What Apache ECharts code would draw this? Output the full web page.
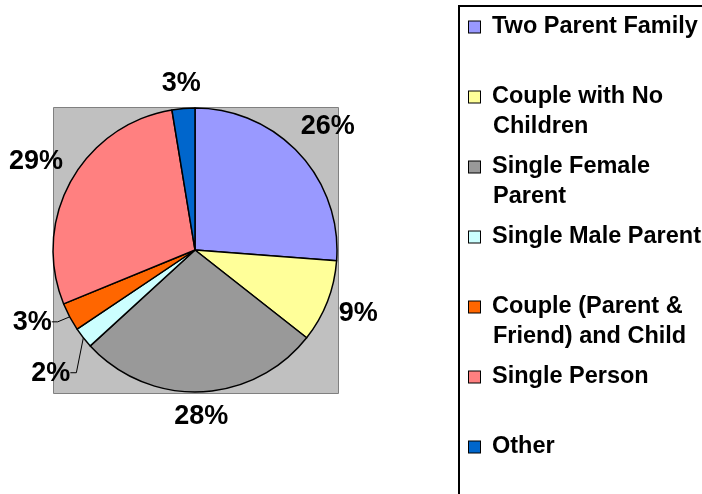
<!DOCTYPE html>
<html>
<head>
<meta charset="utf-8">
<script src="https://cdn.jsdelivr.net/npm/echarts@6/dist/echarts.min.js"></script>
<style>
  html, body { margin: 0; padding: 0; background: #fff; }
  #chart { width: 702px; height: 494px; }
</style>
</head>
<body>
<div id="chart"></div>
<script>
// household types
const categories = ['Two Parent Family', 'Couple with No Children', 'Single Female Parent',
  'Single Male Parent', 'Couple (Parent & Friend) and Child', 'Single Person', 'Other'];
// legend text, wrapped like the original
const legendLines = [['Two Parent Family'], ['Couple with No', 'Children'], ['Single Female', 'Parent'],
  ['Single Male Parent'], ['Couple (Parent &', 'Friend) and Child'], ['Single Person'], ['Other']];
// share of households (%)
const shares = [26.2, 9.4, 27.6, 2.4, 3.2, 28.6, 2.6];

const colors = ['#9999FF', '#FFFF99', '#999999', '#CCFFFF', '#FF6600', '#FF8080', '#0066CC'];
const FONT = "'Liberation Sans', Arial, sans-serif";
const CX = 195, CY = 250, R = 142;
// small slices pulled out with a leader line: bend offset from the rim
const leaders = { 3: [-7, 35], 4: [-12, 5] };

const total = shares.reduce((a, b) => a + b, 0);
function midAngle(i) {
  let before = 0;
  for (let k = 0; k < i; k++) before += shares[k];
  return (before + shares[i] / 2) / total * Math.PI * 2;
}

const rich = {
  t: { fontSize: 23.5, fontWeight: 'bold', fontFamily: FONT, color: '#000', lineHeight: 30 },
  gp: { width: 12 },
  ind: { width: 24 }
};
colors.forEach((c, i) => {
  rich['m' + i] = { width: 11, height: 11, backgroundColor: c, borderColor: '#000', borderWidth: 1 };
});

const chart = echarts.init(document.getElementById('chart'));
const option = {
  backgroundColor: '#fff',
  animation: false,
  graphic: [
    {
      type: 'rect', z: 0, silent: true,
      shape: { x: 53.5, y: 107.5, width: 285, height: 286 },
      style: { fill: '#C0C0C0', stroke: '#808080', lineWidth: 1 }
    },
    {
      type: 'rect', z: 0, silent: true,
      shape: { x: 459, y: 6, width: 320, height: 540 },
      style: { fill: 'none', stroke: '#000', lineWidth: 2 }
    }
  ],
  legend: {
    orient: 'vertical',
    left: 464,
    top: 12,
    padding: 0,
    itemWidth: 0,
    itemHeight: 0,
    itemGap: 10,
    icon: 'rect',
    selectedMode: false,
    itemStyle: { color: 'rgba(0,0,0,0)', borderWidth: 0 },
    formatter: function (name) {
      const i = categories.indexOf(name);
      const l = legendLines[i];
      let s = '{m' + i + '|\u00a0}{gp|\u00a0}{t|' + l[0] + '}';
      if (i < categories.length - 1) s += '\n{ind|\u00a0}{t|' + (l[1] || '\u00a0') + '}';
      return s;
    },
    textStyle: { color: '#000', fontFamily: FONT, fontSize: 23.5, fontWeight: 'bold', lineHeight: 30, rich: rich }
  },
  series: [
    {
      type: 'pie',
      z: 5,
      center: [CX, CY],
      radius: R,
      startAngle: 90,
      clockwise: true,
      avoidLabelOverlap: false,
      itemStyle: { borderColor: '#000', borderWidth: 1.5 },
      label: {
        show: true,
        position: 'outside',
        formatter: p => Math.round(p.percent) + '%',
        fontSize: 27,
        fontWeight: 'bold',
        fontFamily: FONT,
        color: '#000'
      },
      labelLine: { show: false, smooth: false, length: 10, length2: 5, lineStyle: { color: '#000', width: 1 } },
      labelLayout: function (p) {
        const a = midAngle(p.dataIndex);
        const ux = Math.sin(a), uy = -Math.cos(a);
        const ex = CX + R * ux, ey = CY + R * uy;
        const lead = leaders[p.dataIndex];
        if (lead) {
          const bx = ex + lead[0], by = ey + lead[1];
          return {
            x: bx - 6, y: by + 1, align: 'right', verticalAlign: 'middle',
            labelLinePoints: [[ex, ey], [bx, by], [bx - 6, by]]
          };
        }
        const w = p.labelRect.width, h = p.labelRect.height;
        const d = R + 10 + Math.abs(ux) * w / 2 + Math.abs(uy) * h / 2;
        return { x: CX + d * ux, y: CY + d * uy, align: 'center', verticalAlign: 'middle' };
      },
      emphasis: { disabled: true },
      data: categories.map((n, i) => ({
        name: n,
        value: shares[i],
        itemStyle: { color: colors[i] },
        labelLine: { show: !!leaders[i] }
      }))
    }
  ]
};
chart.setOption(option);
</script>
</body>
</html>
